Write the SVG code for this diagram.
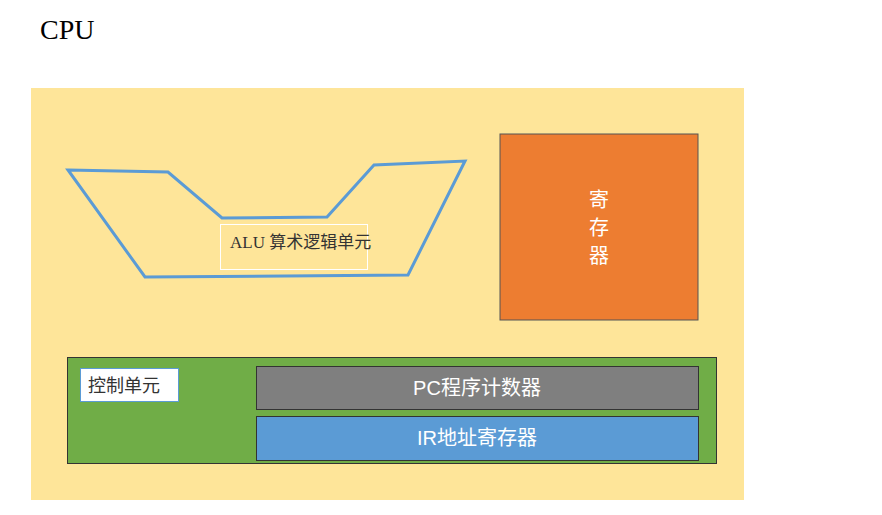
<svg xmlns="http://www.w3.org/2000/svg" width="882" height="515" viewBox="0 0 882 515">
<style>
.s{font-family:"Liberation Serif","Noto Sans CJK SC",serif}
.n{font-family:"Liberation Sans","Noto Sans CJK SC",sans-serif}
</style>
<rect width="882" height="515" fill="#fff"/>
<text x="40" y="39" class="s" font-size="28" fill="#000">CPU</text>
<g id="cpu"><rect x="31" y="88" width="713" height="412" fill="#fee599"/></g>
<g id="connectors"></g>
<g id="alu">
<path d="M68,170 L168,172 L222,218 L327,217 L374,165 L465,161 L408,275 L145,277 Z" fill="none" stroke="#5b9bd5" stroke-width="3"/>
<rect x="220.5" y="224.5" width="147" height="45" fill="none" stroke="#fff" stroke-width="1"/>
<text x="230" y="248" class="s" font-size="17" fill="#333">ALU  算术逻辑单元</text>
</g>
<g id="reg"><rect x="500" y="134" width="198" height="186" fill="#ed7d31" stroke="#555" stroke-width="1"/>
<text class="n" font-size="20" fill="#fff" text-anchor="middle"><tspan x="599" y="207">寄</tspan><tspan x="599" y="235">存</tspan><tspan x="599" y="263">器</tspan></text></g>
<g id="ctrl"><rect x="67.5" y="357.5" width="649" height="106" fill="#70ad47" stroke="#333" stroke-width="1"/>
<rect x="80.5" y="368.5" width="98" height="33" fill="#fff" stroke="#5b9bd5" stroke-width="1"/>
<text x="88" y="392" class="s" font-size="18" fill="#333">控制单元</text></g>
<g id="pc"><rect x="256.5" y="366.5" width="442" height="43" fill="#7f7f7f" stroke="#333" stroke-width="1"/>
<text x="477" y="395" class="n" font-size="20" fill="#fff" text-anchor="middle">PC程序计数器</text></g>
<g id="ir"><rect x="256.5" y="416.5" width="442" height="44" fill="#5b9bd5" stroke="#333" stroke-width="1"/>
<text x="477" y="445" class="n" font-size="20" fill="#fff" text-anchor="middle">IR地址寄存器</text></g>
</svg>
